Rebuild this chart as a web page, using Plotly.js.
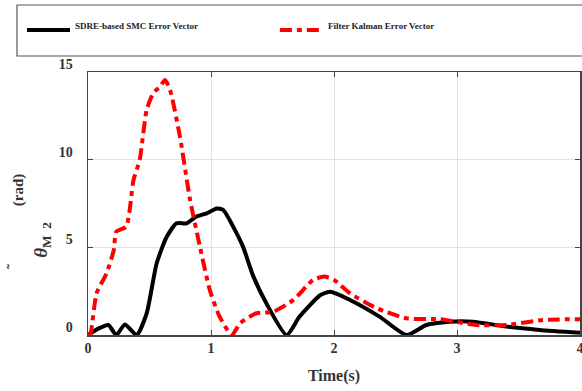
<!DOCTYPE html>
<html>
<head>
<meta charset="utf-8">
<script src="https://cdn.plot.ly/plotly-3.0.1.min.js"></script>
<style>
  html, body { margin: 0; padding: 0; background: #fff; }
  #chart { width: 582px; height: 391px; }
</style>
</head>
<body>
<div id="chart"></div>
<script>
// Time axis and error magnitudes for the two estimators
const timeSmc = [0, 0.08, 0.165, 0.23, 0.30, 0.395, 0.477, 0.558, 0.64, 0.72, 0.80, 0.88, 0.965, 1.046, 1.10, 1.18, 1.26, 1.345, 1.45, 1.615, 1.72, 1.89, 1.97, 2.13, 2.37, 2.59, 2.75, 2.94, 3.13, 3.40, 3.67, 4.0];
const errSmc  = [0, 0.35, 0.57, 0, 0.6, 0, 1.24, 4.08, 5.6, 6.37, 6.37, 6.75, 6.94, 7.22, 7.13, 6.18, 5.04, 3.33, 1.81, 0, 1.05, 2.28, 2.47, 2.0, 1.05, 0, 0.57, 0.76, 0.76, 0.48, 0.29, 0.13];

const timeKf = [0, 0.016, 0.07, 0.15, 0.21, 0.23, 0.31, 0.37, 0.42, 0.477, 0.53, 0.585, 0.626, 0.667, 0.748, 0.83, 0.91, 0.99, 1.07, 1.17, 1.236, 1.37, 1.507, 1.67, 1.83, 1.92, 2.0, 2.13, 2.35, 2.59, 2.86, 3.16, 3.40, 3.70, 4.0];
const errKf  = [0, 0, 2.38, 3.5, 4.85, 5.9, 6.18, 8.84, 9.98, 12.84, 13.79, 14.16, 14.55, 13.98, 11.3, 7.7, 5.04, 2.57, 1.05, 0, 0.67, 1.24, 1.33, 2.0, 3.14, 3.33, 3.14, 2.38, 1.52, 0.95, 0.9, 0.57, 0.57, 0.86, 0.9];

const seriesNames = ['SDRE-based SMC Error Vector', 'Filter Kalman Error Vector'];
const seriesColors = ['#000000', '#ff0000'];
const seriesDash = ['solid', '12px,5px,5px,5px'];
const xTicks = [0, 1, 2, 3, 4];
const yTicks = [0, 5, 10, 15];

const serif = 'Liberation Serif, DejaVu Serif, serif';
const ink = '#333333';

const traces = [
  {
    x: timeSmc, y: errSmc, name: seriesNames[0], mode: 'lines', showlegend: false,
    line: { color: seriesColors[0], width: 4, dash: seriesDash[0], shape: 'spline', smoothing: 0.6 }
  },
  {
    x: timeKf, y: errKf, name: seriesNames[1], mode: 'lines', showlegend: false,
    line: { color: seriesColors[1], width: 4, dash: seriesDash[1], shape: 'spline', smoothing: 0.6 }
  }
];

const axisCommon = {
  showline: true, linecolor: '#444', linewidth: 1.5, mirror: 'ticks',
  ticks: 'inside', ticklen: 5, tickcolor: '#444',
  showgrid: true, gridcolor: '#e2e2e2', gridwidth: 1,
  zeroline: false, ticklabeloverflow: 'allow',
  tickfont: { family: serif, size: 14, color: ink, weight: 'bold' }
};

// Legend drawn as a framed key above the plot: sample line + label per series
const keyX = [[-0.124, -0.0366], [0.390, 0.4776]];
const keyY = 1.1597;
const keyShapes = seriesNames.map((n, i) => ({
  type: 'line', xref: 'paper', yref: 'paper',
  x0: keyX[i][0], x1: keyX[i][1], y0: keyY, y1: keyY,
  line: { color: seriesColors[i], width: 4, dash: seriesDash[i] }
}));
const keyLabels = seriesNames.map((n, i) => ({
  xref: 'paper', yref: 'paper', x: keyX[i][1] + 0.006, y: keyY + 0.014,
  xanchor: 'left', yanchor: 'middle', showarrow: false,
  text: '<b>' + n + '</b>', font: { family: serif, size: 9, color: '#222' }
}));

const layout = {
  width: 582, height: 391,
  margin: { l: 88, r: 2, t: 72, b: 56 },
  paper_bgcolor: '#fff', plot_bgcolor: '#fff',
  showlegend: false,
  xaxis: Object.assign({}, axisCommon, {
    range: [0, 4], tickvals: xTicks,
    title: { text: '<b>Time(s)</b>', font: { family: serif, size: 16, color: ink }, standoff: 14 }
  }),
  yaxis: Object.assign({}, axisCommon, {
    range: [0, 15], tickvals: yTicks, ticklabelshift: -8, ticklabelstandoff: 11
  }),
  shapes: [
    { type: 'rect', xref: 'paper', yref: 'paper', x0: -0.1443, x1: 1.1, y0: 1.0608, y1: 1.2548,
      line: { color: '#555', width: 1.2 }, fillcolor: 'rgba(0,0,0,0)', layer: 'below' }
  ].concat(keyShapes),
  annotations: [
    { xref: 'paper', yref: 'paper', x: -0.142, y: 0.551, xanchor: 'center', yanchor: 'middle',
      text: '<b>(rad)</b>', textangle: -90,
      showarrow: false, font: { family: serif, size: 15, color: ink } },
    { xref: 'paper', yref: 'paper', x: -0.094, y: 0.361, xanchor: 'center', yanchor: 'middle',
      text: '<b><i>θ</i></b><sub><b>M  2</b></sub>', textangle: -90,
      showarrow: false, font: { family: serif, size: 19, color: ink } },
    { xref: 'paper', yref: 'paper', x: -0.154, y: 0.259, xanchor: 'center', yanchor: 'middle',
      text: '<b>˜</b>', textangle: -90,
      showarrow: false, font: { family: serif, size: 15, color: ink } }
  ].concat(keyLabels)
};

Plotly.newPlot('chart', traces, layout, { displayModeBar: false, staticPlot: true });
</script>
</body>
</html>
